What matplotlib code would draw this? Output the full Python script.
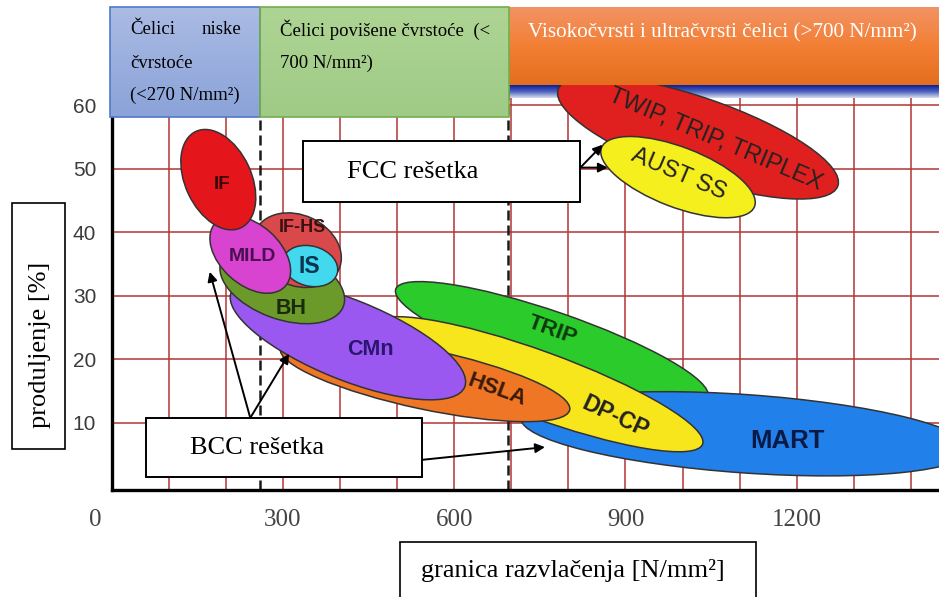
import numpy as np
import matplotlib
matplotlib.use("Agg")
import matplotlib.pyplot as plt
from matplotlib.patches import Ellipse, Rectangle
from matplotlib.transforms import Affine2D
from matplotlib.colors import LinearSegmentedColormap

# steel families, drawn back to front
# centre: yield strength [N/mm2], elongation [%]; size in 100 N/mm2 units; tilt in degrees
steel_names = ["TRIP", "MART", "DP-CP", "HSLA", "CMn", "BH", "IF-HS", "IS", "MILD", "IF",
               "TWIP, TRIP, TRIPLEX", "AUST SS"]
centre_ys = [771, 1110, 747, 549, 414, 299, 325, 348, 243, 187, 1027, 992]
centre_el = [22.6, 8.3, 16.1, 16.9, 23.1, 31.9, 37.2, 34.7, 36.5, 48.3, 54.9, 48.7]
width = [5.78, 7.88, 6.13, 5.18, 4.41, 2.28, 1.61, 0.98, 1.65, 1.86, 5.18, 2.87]
height = [1.09, 1.37, 1.16, 1.05, 1.40, 1.23, 1.23, 0.70, 1.05, 1.16, 1.40, 1.05]
tilt = [-19, -4, -20, -12, -22, -20, -25, -15, -42, -65, -19, -21]
face = ["#2ccb2c", "#2280ea", "#f8e61c", "#ee7624", "#9a58f0", "#6c9a2a", "#d9484a",
        "#42d9ef", "#d843cf", "#e5161b", "#e0201e", "#f5ef1e"]

# label placement for each family
label_x = [772, 1183, 882, 675, 453, 314, 335, 346, 246, 194, 1058, 994]
label_y = [24.6, 7.2, 10.9, 15.2, 21.5, 28.0, 40.7, 34.6, 36.2, 47.6, 54.6, 49.1]
label_rot = [-20, 0, -25, -20, 0, 0, 0, 0, 0, 0, -23, -23]
label_size = [16, 18.5, 16.5, 16, 15.5, 15.5, 13, 16.5, 14, 13.5, 17, 17]
label_bold = [True, True, True, True, True, True, True, True, True, True, False, False]
label_col = ["#0d3a0d", "#0a1a45", "#222222", "#3a1a0a", "#2a1670", "#1a2a0a", "#3a1010",
             "#0a3550", "#4a0f50", "#3a0a0a", "#222222", "#222222"]

limit_low = 260   # boundary of low strength steels
limit_high = 695  # boundary of high strength steels

x_ticks = [300, 600, 900, 1200]
y_ticks = [10, 20, 30, 40, 50, 60]
grid_x = np.arange(100, 1500, 100)

fig = plt.figure(figsize=(9.39, 5.97), dpi=100)
ax = fig.add_axes([111.5 / 939, 1 - 490 / 597, 827.5 / 939, 405 / 597])

# blue strip left over from the slide header
strip = LinearSegmentedColormap.from_list("strip", ["#0c1f94", "#4d62bd", "#d6dcf0"])
ax.imshow(np.linspace(0, 1, 50).reshape(-1, 1), cmap=strip, aspect="auto",
          extent=(limit_high, 1449, 61.2, 63.2), zorder=0.5)

ax.set_xlim(0, 1449)
ax.set_ylim(-0.55, 63.2)

grid_col = "#b03636"
ax.vlines(grid_x, -0.55, 63.2, color=grid_col, lw=1.1, zorder=0.3)
ax.hlines(y_ticks, 0, 1449, color=grid_col, lw=1.1, zorder=0.3)

for xv in [limit_low, limit_high]:
    ax.axvline(xv, color="#1a1a1a", lw=1.8, ls=(0, (4, 2)), zorder=0.8)

ell_tr = Affine2D().scale(100, 9.0) + ax.transData
for i, name in enumerate(steel_names):
    e = Ellipse((centre_ys[i] / 100, centre_el[i] / 9.0), width[i], height[i], angle=tilt[i],
                facecolor=face[i], edgecolor="#333333", lw=1.1, transform=ell_tr, zorder=2 + i * 0.1)
    ax.add_patch(e)
    ax.text(label_x[i], label_y[i], name, ha="center", va="center", rotation=label_rot[i],
            fontsize=label_size[i], fontweight="bold" if label_bold[i] else "normal",
            family="Liberation Sans", color=label_col[i], zorder=4)

# lattice boxes
ax.add_patch(Rectangle((336, 44.8), 485, 9.6, fc="white", ec="black", lw=1.4, zorder=6))
ax.text(413, 49.5, "FCC rešetka", ha="left", va="center", fontsize=19,
        family="Liberation Serif", zorder=7)
ax.add_patch(Rectangle((60, 1.5), 484, 9.3, fc="white", ec="black", lw=1.4, zorder=6))
ax.text(137, 6.1, "BCC rešetka", ha="left", va="center", fontsize=19,
        family="Liberation Serif", zorder=7)

arrow = dict(arrowstyle="-|>", color="black", lw=1.4, mutation_scale=14, shrinkA=0, shrinkB=0)
for head in [(860, 53.8), (869, 50.2)]:
    ax.annotate("", xy=head, xytext=(821, 50.2), arrowprops=arrow, zorder=7)
for head in [(172, 33.8), (311, 20.9)]:
    ax.annotate("", xy=head, xytext=(243, 10.8), arrowprops=arrow, zorder=7)
ax.annotate("", xy=(759, 6.2), xytext=(544, 4.2), arrowprops=arrow, zorder=7)

ax.set_xticks(x_ticks)
ax.set_xticklabels([str(v) for v in x_ticks], family="Liberation Serif", fontsize=18, color="#444444")
ax.set_yticks(y_ticks)
ax.set_yticklabels([str(v) for v in y_ticks], family="Liberation Sans", fontsize=15, color="#3c3c3c")
ax.tick_params(axis="x", length=0, pad=14)
ax.tick_params(axis="y", length=0, pad=11)
ax.annotate("0", xy=(0, 0), xycoords="axes fraction", xytext=(-12, -14), textcoords="offset points",
            ha="center", va="top", family="Liberation Serif", fontsize=18, color="#444444")
for s in ["top", "right"]:
    ax.spines[s].set_visible(False)
for s in ["left", "bottom"]:
    ax.spines[s].set_linewidth(2.4)
    ax.spines[s].set_color("black")
ax.set_facecolor("white")

# overlay in pixel units for the header boxes and axis titles
ov = fig.add_axes([0, 0, 1, 1], zorder=5)
ov.patch.set_alpha(0)
blue = LinearSegmentedColormap.from_list("blue", ["#aabbe4", "#8ba3d9"])
orange = LinearSegmentedColormap.from_list("orange", ["#f39364", "#f27f34", "#e56e1e"])
green = LinearSegmentedColormap.from_list("green", ["#aed494", "#9fcb86"])
grad = np.linspace(0, 1, 60).reshape(-1, 1)
ov.imshow(grad, cmap=blue, aspect="auto", extent=(110, 260, 117, 7))
ov.imshow(grad, cmap=green, aspect="auto", extent=(260, 509, 117, 7))
ov.imshow(grad, cmap=orange, aspect="auto", extent=(509, 939, 85, 7))
ov.add_patch(Rectangle((110, 7), 150, 110, fc="none", ec="#4f79c6", lw=1.2))
ov.add_patch(Rectangle((260, 7), 249, 110, fc="none", ec="#74ae4c", lw=1.2))

serif = dict(family="Liberation Serif", fontsize=13.5, va="center")
ov.text(130, 30, "Čelici", ha="left", **serif)
ov.text(241, 30, "niske", ha="right", **serif)
ov.text(130, 63, "čvrstoće", ha="left", **serif)
ov.text(130, 95, "(<270 N/mm²)", ha="left", **serif)
ov.text(280, 30, "Čelici povišene čvrstoće  (<", ha="left", **serif)
ov.text(280, 63, "700 N/mm²)", ha="left", **serif)
ov.text(528, 33, "Visokočvrsti i ultračvrsti čelici (>700 N/mm²)", ha="left", va="center",
        family="Liberation Serif", fontsize=15.2, color="white")

ov.add_patch(Rectangle((12, 203), 53, 246, fc="white", ec="black", lw=1.2))
ov.text(40, 345, "produljenje [%]", rotation=90, ha="center", va="center",
        family="Liberation Serif", fontsize=19)
ov.add_patch(Rectangle((400, 542), 356, 60, fc="white", ec="black", lw=1.2))
ov.text(573, 570, "granica razvlačenja [N/mm²]", ha="center", va="center",
        family="Liberation Serif", fontsize=19)

ov.set_xlim(0, 939)
ov.set_ylim(597, 0)
ov.axis("off")

fig.savefig("out.png", dpi=100)
